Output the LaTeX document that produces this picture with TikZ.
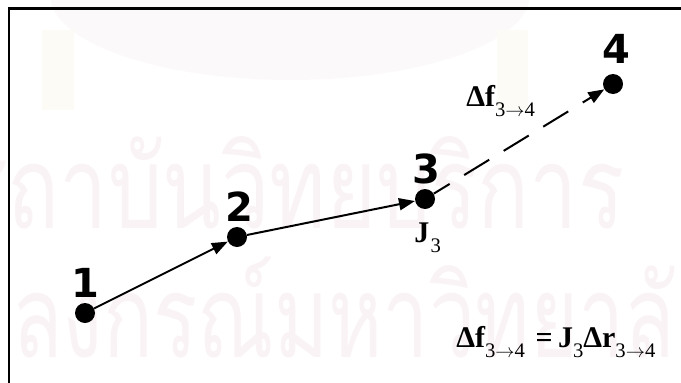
\documentclass[tikz,border=0pt]{standalone}
\usepackage{fontspec}
\setmainfont{Liberation Serif}
\newfontfamily\digfont{DejaVu Sans}
\newfontfamily\thaifont[Script=Thai]{Loma}
\usetikzlibrary{arrows.meta}
\definecolor{wm}{RGB}{250,243,246}
\definecolor{wmdome}{RGB}{252,249,250}
\definecolor{wmtassel}{RGB}{252,251,246}
\newcommand\subtxt[1]{\raisebox{-0.36em}{\fontsize{15.5}{15.5}\selectfont\mdseries #1}}
\newcommand\arr{$\rightarrow$}
\begin{document}
\begin{tikzpicture}[x=0.75pt,y=-0.75pt,
  dot/.style={circle,fill=black,inner sep=0pt,minimum size=15pt},
  numlabel/.style={font=\digfont\bfseries\fontsize{30}{30}\selectfont,inner sep=0pt,anchor=base},
  eqtext/.style={font=\bfseries\fontsize{22.5}{22.5}\selectfont,inner sep=0pt},
  wmtext/.style={font=\thaifont\fontsize{86}{86}\selectfont,text=wm,inner sep=0pt,anchor=base west},
  conn/.style={line width=1.5pt,-{Triangle[length=12pt,width=9pt]}},
  frameline/.style={line width=1.6pt}]
\useasboundingbox (0,0) rectangle (681,382);
\begin{scope}
\clip (0,0) rectangle (681,382);
% faint watermark
\fill[wmdome] (290,-5) ellipse [x radius=240, y radius=85];
\fill[wmtassel] (42,30) rectangle (74,110);
\fill[wmtassel] (497,30) rectangle (528,110);
\node[wmtext] (wm1) at (-45,228) {\scalebox{0.75}[1]{สถาบันวิทยบริการ}};
\node[wmtext] (wm2) at (12,357) {\scalebox{0.72}[1]{ลงกรณ์มหาวิทยาลัย}};
\end{scope}
% frame
\draw[frameline] (9,383) -- (9,8.5) -- (682,8.5);
% points
\node[dot] (p1) at (85,313) {};
\node[dot] (p2) at (237,237) {};
\node[dot] (p3) at (425,199) {};
\node[dot] (p4) at (613,84) {};
% number labels
\node[numlabel] (l1) at (85,297) {1};
\node[numlabel] (l2) at (239,221) {2};
\node[numlabel] (l3) at (426,183) {3};
\node[numlabel] (l4) at (616,63) {4};
% connectors
\draw[conn] (p1) -- (p2);
\draw[conn] (p2) -- (p3);
\draw[conn,dash pattern=on 22pt off 12.75pt,dash phase=8pt] (p3) -- (p4);
% math labels
\node[eqtext,anchor=base west] (j3) at (414,242) {J\hspace{1pt}\subtxt{3}};
\node[eqtext,anchor=base west] (df) at (466,106) {Δf\subtxt{3\arr4}};
\node[eqtext,anchor=base west] (eq) at (456,347) {Δf\subtxt{3\arr4}\hspace{8pt}=\hspace{4pt}J\subtxt{3}Δr\subtxt{3\arr4}};
\end{tikzpicture}
\end{document}
